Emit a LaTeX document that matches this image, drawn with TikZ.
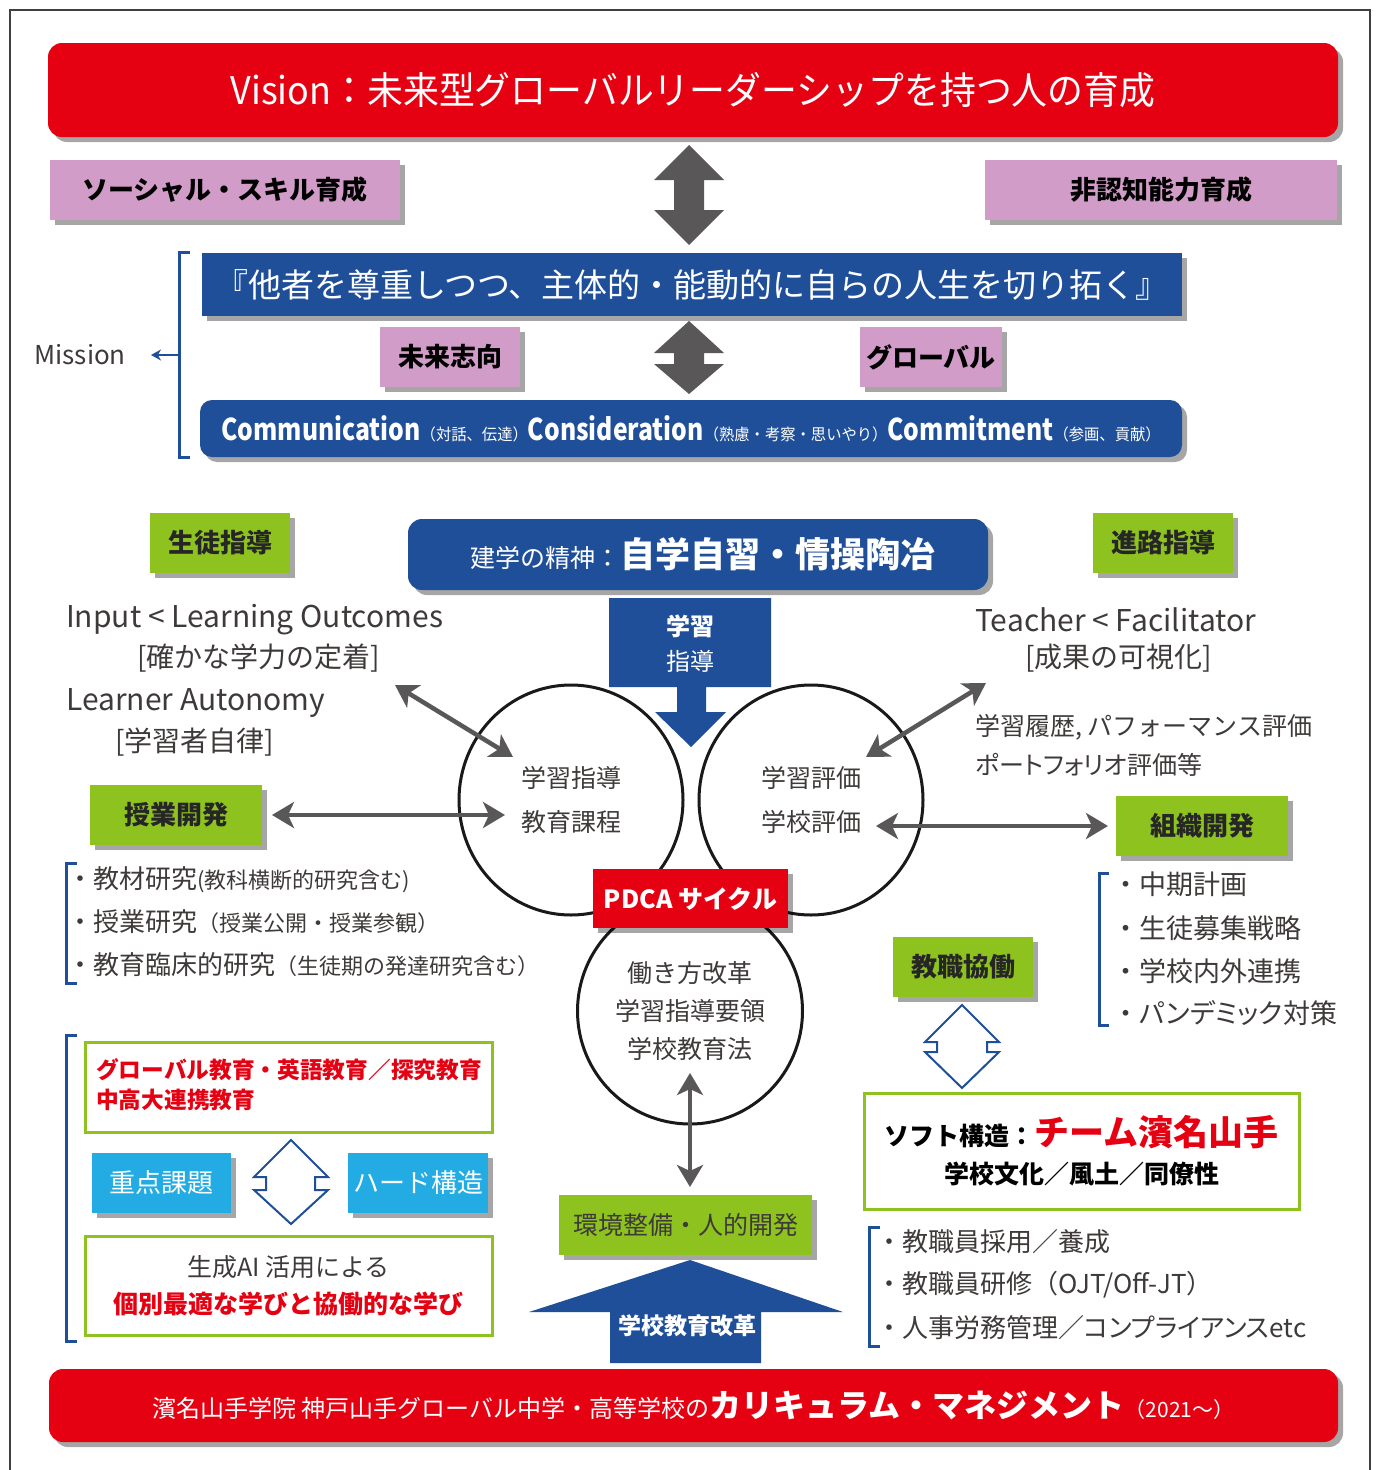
\documentclass[tikz,border=0pt]{standalone}
\usepackage{fontspec}
\usepackage{graphicx}
\setmainfont{Noto Sans CJK JP}
\newfontfamily\cond{Noto Sans CJK JP}[FakeStretch=0.86]
\newfontfamily\pj{Noto Sans CJK JP}[RawFeature=+palt]
\usetikzlibrary{shadows,arrows.meta,shapes.geometric}
\definecolor{vred}{HTML}{E50012}
\definecolor{vblue}{HTML}{1F4F99}
\definecolor{vpink}{HTML}{D19CC7}
\definecolor{vgreen}{HTML}{8DC21F}
\definecolor{vcyan}{HTML}{22ACE3}
\definecolor{vgray}{HTML}{595757}
\definecolor{vtext}{HTML}{3E3A39}
\newcommand\fsz[1]{\fontsize{#1}{#1}\selectfont}
\newcommand\fszl[2]{\fontsize{#1}{#2}\selectfont}
\tikzset{
  shd/.style={drop shadow={shadow xshift=5pt,shadow yshift=-5pt,fill=black,opacity=.35}},
  basebox/.style={inner sep=0pt, outer sep=0pt, shd},
  redbox/.style={basebox, fill=vred, text=white, rounded corners=14pt},
  bluebox/.style={basebox, fill=vblue, text=white},
  pinkbox/.style={basebox, fill=vpink, text=black, font=\bfseries\fsz{26}},
  greenbox/.style={basebox, fill=vgreen, text=black!85, font=\bfseries\fsz{26}},
  cyanbox/.style={basebox, fill=vcyan, text=white, font=\fsz{26}},
  outbox/.style={draw=vgreen, line width=3pt, fill=white, inner sep=0pt},
  ring/.style={draw=black!90, line width=3pt, ellipse, inner sep=0pt, text=vtext, align=center},
  garrow/.style={draw=vgray, line width=4.5pt, arrows={Stealth[length=22pt,width=26pt,inset=6pt]-Stealth[length=22pt,width=26pt,inset=6pt]}},
  openarrow/.style={draw=vblue, line width=2pt, fill=white, line join=miter},
  bracket/.style={draw=vblue, line width=3pt},
  txt/.style={inner sep=0pt, text=vtext},
}
\begin{document}
\begin{tikzpicture}[x=1pt,y=-1pt]
\useasboundingbox (0,0) rectangle (1376,1470);
\fill[white] (0,0) rectangle (1376,1470);
\draw[black!75, line width=1.5pt] (10,1470) -- (10,10) -- (1370,10) -- (1370,1470);

% Vision
\node[redbox, minimum width=1290pt, minimum height=94pt, font=\fsz{38}] (vision) at (693,90) {\scalebox{0.944}[1]{Vision：未来型グローバルリーダーシップを持つ人の育成}};

\node[pinkbox, minimum width=350pt, minimum height=60pt] (social) at (225,190) {ソーシャル・スキル育成};
\node[pinkbox, minimum width=352pt, minimum height=60pt] (noncog) at (1161,190) {非認知能力育成};

\fill[vgray] (689,145) -- (724,180) -- (704,180) -- (704,210) -- (724,210) -- (689,245) -- (654,210) -- (674,210) -- (674,180) -- (654,180) -- cycle;

\node[bluebox, minimum width=980pt, minimum height=63pt, font=\fsz{33}] (motto) at (692,284.5) {『他者を尊重しつつ、主体的・能動的に自らの人生を切り拓く』};

\fill[vgray] (689,321) -- (724,353) -- (704,353) -- (704,364) -- (724,364) -- (689,394) -- (654,364) -- (674,364) -- (674,353) -- (654,353) -- cycle;

\node[pinkbox, minimum width=140pt, minimum height=60pt] (future) at (450,357) {未来志向};
\node[pinkbox, minimum width=142pt, minimum height=60pt] (global) at (931,357) {グローバル};

\node[bluebox, rounded corners=12pt, minimum width=982pt, minimum height=57pt] (comm) at (691,428.5) {\scalebox{0.957}[1]{{\cond\bfseries\fsz{30}Communication}{\fsz{16}（対話、伝達）}{\cond\bfseries\fsz{30}Consideration}{\fsz{16}（熟慮・考察・思いやり）}{\cond\bfseries\fsz{30}Commitment}{\fsz{16}（参画、貢献）}}};

% Mission bracket
\draw[bracket] (190,252) -- (179,252) -- (179,457) -- (190,457);
\coordinate (mbr) at (179,355);
\node[txt, anchor=east, font=\fsz{26}] (mission) at (126,355) {Mission};
\draw[vblue, line width=2pt, -{Stealth[length=10pt,width=11pt]}, shorten >=25pt] (mbr) -- (mission.east);

% spirit
\node[bluebox, rounded corners=14pt, minimum width=580pt, minimum height=71pt] (spirit) at (698,554.5) {\hspace{10pt}{\fsz{25}建学の精神：}{\bfseries\fsz{35}自学自習・情操陶冶}};

\node[greenbox, minimum width=140pt, minimum height=60pt] (seito) at (220,543) {生徒指導};
\node[greenbox, minimum width=140pt, minimum height=60pt] (shinro) at (1163,543) {進路指導};
\node[greenbox, minimum width=172pt, minimum height=60pt] (jugyo) at (176,815) {授業開発};
\node[greenbox, minimum width=172pt, minimum height=60pt] (soshiki) at (1202,826) {組織開発};
\node[greenbox, minimum width=140pt, minimum height=60pt] (kyoshoku) at (963,967) {教職協働};

% blue down arrow
\fill[vblue] (609,598) -- (771,598) -- (771,687) -- (706,687) -- (706,712) -- (726,712) -- (691,747) -- (655,712) -- (677,712) -- (677,687) -- (609,687) -- cycle;
\node[txt, text=white, font=\bfseries\fsz{24}] (gaku) at (690,626) {学習};
\node[txt, text=white, font=\fsz{24}] (shido) at (690,661) {指導};

% left texts
\node[txt, anchor=west, font=\fsz{30}] (inp) at (66,620) {Input < Learning Outcomes};
\node[txt, anchor=west, font=\fsz{28}] (kaku) at (137,658) {[確かな学力の定着]};
\node[txt, anchor=west, font=\fsz{30}] (learner) at (66,703) {Learner Autonomy};
\node[txt, anchor=west, font=\fsz{28}] (jiritsu) at (115,742) {[学習者自律]};
% right texts
\node[txt, anchor=west, font=\fsz{30}] (teacher) at (975,620) {Teacher < Facilitator};
\node[txt, anchor=west, font=\fsz{28}] (kashika) at (1025,658) {[成果の可視化]};
\node[txt, anchor=west, font=\fsz{25}] (rireki) at (975,727) {学習履歴, パフォーマンス評価};
\node[txt, anchor=west, font=\pj\fsz{25}] (portfolio) at (975,765) {ポートフォリオ評価等};

% circles
\node[ring, minimum width=224pt, minimum height=230pt, font=\fszl{25}{44}] (cL) at (571,800) {学習指導\\教育課程};
\node[ring, minimum width=224pt, minimum height=230pt, font=\fszl{25}{44}] (cR) at (811,800) {学習評価\\学校評価};
\node[ring, minimum width=225pt, minimum height=226pt, font=\fszl{25}{38}] (cB) at (690,1011) {働き方改革\\学習指導要領\\学校教育法};

% gray arrows
\coordinate (a1s) at (395,685); \coordinate (a1e) at (513,757);
\draw[garrow] (a1s) -- (a1e);
\coordinate (a2e) at (505,815);
\draw[garrow, shorten <=10pt] (jugyo.east) -- (a2e);
\coordinate (a3s) at (986,683); \coordinate (a3e) at (866,757);
\draw[garrow] (a3s) -- (a3e);
\coordinate (a4s) at (876,826);
\draw[garrow, shorten >=8pt] (a4s) -- (soshiki.west);
\coordinate (a5s) at (690,1073);
\draw[garrow, shorten >=8pt] (a5s) -- (a5s |- 1195,1195);

% PDCA
\node[basebox, fill=vred, text=white, minimum width=195pt, minimum height=59pt, font=\bfseries\fsz{25}] (pdca) at (690.5,898.5) {PDCA サイクル};

% left list
\draw[bracket] (77,863) -- (66,863) -- (66,983) -- (77,983);
\node[txt, anchor=west, font=\fsz{26}] (l1) at (67,880) {・教材研究{\fsz{22}(教科横断的研究含む)}};
\node[txt, anchor=west, font=\fsz{26}] (l2) at (67,922) {・授業研究{\fsz{22}（授業公開・授業参観）}};
\node[txt, anchor=west, font=\fsz{26}] (l3) at (67,965) {・教育臨床的研究{\fsz{22}（生徒期の発達研究含む）}};

% right list
\draw[bracket] (1109,873) -- (1099,873) -- (1099,1025) -- (1109,1025);
\node[txt, anchor=west, font=\fsz{27}] (r1) at (1112,884) {・中期計画};
\node[txt, anchor=west, font=\fsz{27}] (r2) at (1112,928) {・生徒募集戦略};
\node[txt, anchor=west, font=\fsz{27}] (r3) at (1112,971) {・学校内外連携};
\node[txt, anchor=west, font=\fsz{27}] (r4) at (1112,1013) {・{\pj パンデミック}対策};

% bottom-left group
\draw[bracket] (77,1035) -- (66,1035) -- (66,1341) -- (77,1341);
\node[outbox, minimum width=407pt, minimum height=90pt] (g1) at (288.5,1087) {};
\node[txt, anchor=west, align=left, text=vred, font=\bfseries\fszl{22.7}{30}] (g1t) at (96,1085) {グローバル教育・英語教育／探究教育\\中高大連携教育};
\node[cyanbox, minimum width=139pt, minimum height=60pt] (juten) at (161.5,1183) {重点課題};
\node[cyanbox, minimum width=140pt, minimum height=60pt] (hard) at (418,1183) {ハード構造};
\filldraw[openarrow] (291,1140) -- (328,1177) -- (315,1177) -- (315,1190) -- (328,1190) -- (291,1224) -- (254,1190) -- (266,1190) -- (266,1177) -- (254,1177) -- cycle;
\node[outbox, minimum width=407pt, minimum height=99pt, align=center, font=\fszl{25}{37}] (g2) at (288.5,1285.5) {{\color{vtext}生成AI 活用による}\\{\color{vred}\bfseries 個別最適な学びと協働的な学び}};

% center bottom
\node[greenbox, font=\fsz{25}, text=vtext, minimum width=253pt, minimum height=60pt] (kankyo) at (685.5,1225) {環境整備・人的開発};
\fill[vblue] (690,1260) -- (843,1312) -- (761,1312) -- (761,1363) -- (610,1363) -- (610,1312) -- (529,1312) -- cycle;
\node[txt, text=white, font=\bfseries\fsz{23}] (reform) at (687,1326) {学校教育改革};

% right bottom
\filldraw[openarrow] (962,1005) -- (999,1042) -- (987,1042) -- (987,1052) -- (999,1052) -- (962,1088) -- (925,1052) -- (937,1052) -- (937,1042) -- (925,1042) -- cycle;
\node[outbox, minimum width=435pt, minimum height=116pt, align=center, font=\fszl{25}{38}] (soft) at (1081.5,1151) {{\bfseries ソフト構造：}{\bfseries\color{vred}\fsz{35}チーム濱名山手}\\{\bfseries 学校文化／風土／同僚性}};
\draw[bracket] (880,1227) -- (869,1227) -- (869,1346) -- (880,1346);
\node[txt, anchor=west, font=\fsz{26}] (b1) at (876,1242) {・教職員採用／養成};
\node[txt, anchor=west, font=\fsz{26}] (b2) at (876,1285) {・教職員研修（OJT/Off-JT）};
\node[txt, anchor=west, font=\fsz{26}] (b3) at (876,1328) {・人事労務管理／{\pj コンプライアンス}etc};

% bottom banner
\node[redbox, minimum width=1289pt, minimum height=73pt] (curric) at (693.5,1405.5) {{\fsz{24}濱名山手学院 神戸山手グローバル中学・高等学校の}{\bfseries\fsz{32}カリキュラム・マネジメント}{\fsz{21}（2021～）}\hspace{17pt}};
\end{tikzpicture}
\end{document}
